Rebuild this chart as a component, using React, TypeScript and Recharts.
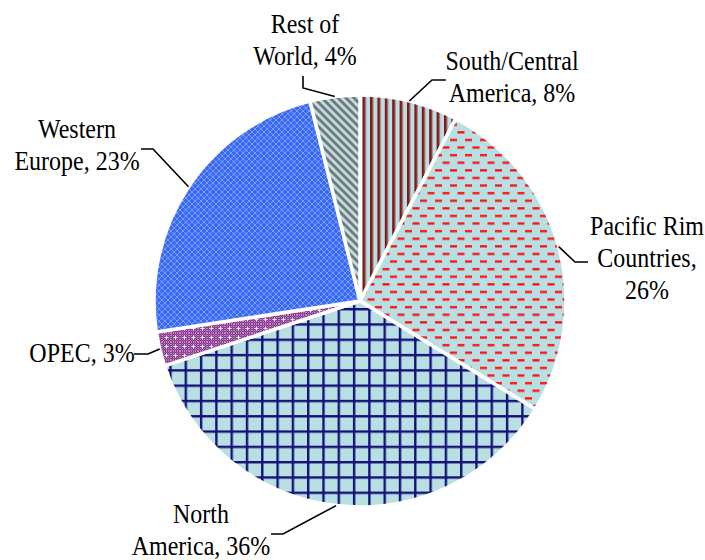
import React from 'react';
import { PieChart, Pie, Cell } from 'recharts';

const categories = [
  'South/Central America',
  'Pacific Rim Countries',
  'North America',
  'OPEC',
  'Western Europe',
  'Rest of World',
];
const shares = [7.7, 26.1, 36.1, 2.7, 23.5, 3.9];
const labelTemplates = [
  ['South/Central', 'America, {p}%'],
  ['Pacific Rim', 'Countries,', '{p}%'],
  ['North', 'America, {p}%'],
  ['OPEC, {p}%'],
  ['Western', 'Europe, {p}%'],
  ['Rest of', 'World, {p}%'],
];

const patternIds = ['pSC', 'pPR', 'pNA', 'pOP', 'pWE', 'pRW'];

// label placement (text centre x, first baseline y, elbow, end of leader)
const labelLayout = [
  { x: 512, y: 70, elbow: [432, 80], end: [446, 80] },
  { x: 647, y: 235, elbow: [575, 262], end: [588, 262] },
  { x: 201, y: 523, elbow: [283, 534], end: [271, 534] },
  { x: 82, y: 362, elbow: [148, 354], end: [134, 354] },
  { x: 77, y: 138, elbow: [153, 149], end: [141, 149] },
  { x: 305, y: 33, elbow: [303, 88], end: [303, 76] },
];

const data = categories.map((name, i) => ({ name, value: shares[i] }));

const BG = '#b9dfe3';
const RAD = Math.PI / 180;
const LINE_H = 32;
const FONT = 'Liberation Serif';

const renderLabel = (props: any) => {
  const { cx, cy, midAngle, outerRadius, percent, index } = props;
  const sx = cx + outerRadius * Math.cos(-midAngle * RAD);
  const sy = cy + outerRadius * Math.sin(-midAngle * RAD);
  const L = labelLayout[index];
  const p = Math.round(percent * 100);
  const lines = labelTemplates[index].map((t) => t.replace('{p}', String(p)));
  return (
    <g key={`lbl-${index}`}>
      <polyline
        points={`${sx},${sy} ${L.elbow[0]},${L.elbow[1]} ${L.end[0]},${L.end[1]}`}
        fill="none"
        stroke="#000"
        strokeWidth={1.6}
      />
      {lines.map((ln, k) => (
        <text
          key={k}
          transform={`translate(${L.x},${L.y + k * LINE_H}) scale(1,1.12)`}
          x={0}
          y={0}
          textAnchor="middle"
          fontFamily={FONT}
          fontSize={24}
          fill="#000"
        >
          {ln}
        </text>
      ))}
    </g>
  );
};

const Patterns = () => (
  <svg width={0} height={0} style={{ position: 'absolute' }}>
    <defs>
      <pattern id="pSC" patternUnits="userSpaceOnUse" width={7.4} height={10}>
        <rect width={7.4} height={10} fill={BG} />
        <rect x={0} width={2.6} height={10} fill="#7e1818" />
        <rect x={2.6} width={0.8} height={10} fill="#b06a6a" />
      </pattern>
      <pattern id="pPR" patternUnits="userSpaceOnUse" width={15} height={15.2}>
        <rect width={15} height={15.2} fill={BG} />
        <rect x={0} y={2} width={7} height={2.3} fill="#ff0f0f" />
        <rect x={7.5} y={9.6} width={7} height={2.3} fill="#ff0f0f" />
      </pattern>
      <pattern id="pNA" patternUnits="userSpaceOnUse" width={15.3} height={15.3} x={1} y={2}>
        <rect width={15.3} height={15.3} fill={BG} />
        <rect x={0} y={0} width={2.4} height={15.3} fill="#12127a" />
        <rect x={0} y={0} width={15.3} height={2.4} fill="#12127a" />
      </pattern>
      <pattern id="pOPbase" patternUnits="userSpaceOnUse" width={2} height={2}>
        <rect width={2} height={2} fill="#86368a" />
        <rect width={1} height={1} fill="#c58ac5" />
        <rect x={1} y={1} width={1} height={1} fill="#a060a6" />
      </pattern>
      <pattern id="pOP" patternUnits="userSpaceOnUse" width={9} height={9}>
        <rect width={9} height={9} fill="url(#pOPbase)" />
        <rect x={4} y={2.5} width={1} height={4} fill="#cfe8ec" />
        <rect x={2.5} y={4} width={4} height={1} fill="#cfe8ec" />
      </pattern>
      <pattern id="pWE" patternUnits="userSpaceOnUse" width={6} height={6}>
        <rect width={6} height={6} fill="#3a6af5" />
        <path d="M0,0 L6,6 M6,0 L0,6" stroke="#7fa4fb" strokeWidth={0.9} />
      </pattern>
      <pattern id="pRW" patternUnits="userSpaceOnUse" width={8} height={8}>
        <rect width={8} height={8} fill={BG} />
        <path d="M-2,-2 L10,10 M-2,6 L2,10 M6,-2 L10,2" stroke="#767676" strokeWidth={2.8} />
      </pattern>
    </defs>
  </svg>
);

export default function App() {
  return (
    <div style={{ position: 'absolute', left: 0, top: 0, width: 705, height: 560, background: '#fff' }}>
      <Patterns />
      <PieChart width={705} height={560} margin={{ top: 0, right: 0, bottom: 0, left: 0 }}>
        <Pie
          data={data}
          dataKey="value"
          nameKey="name"
          cx={360}
          cy={301}
          outerRadius={206}
          startAngle={90}
          endAngle={-270}
          stroke="#ffffff"
          strokeWidth={3.5}
          label={renderLabel}
          labelLine={false}
          isAnimationActive={false}
        >
          {data.map((d, i) => (
            <Cell key={d.name} fill={`url(#${patternIds[i]})`} />
          ))}
        </Pie>
      </PieChart>
    </div>
  );
}
